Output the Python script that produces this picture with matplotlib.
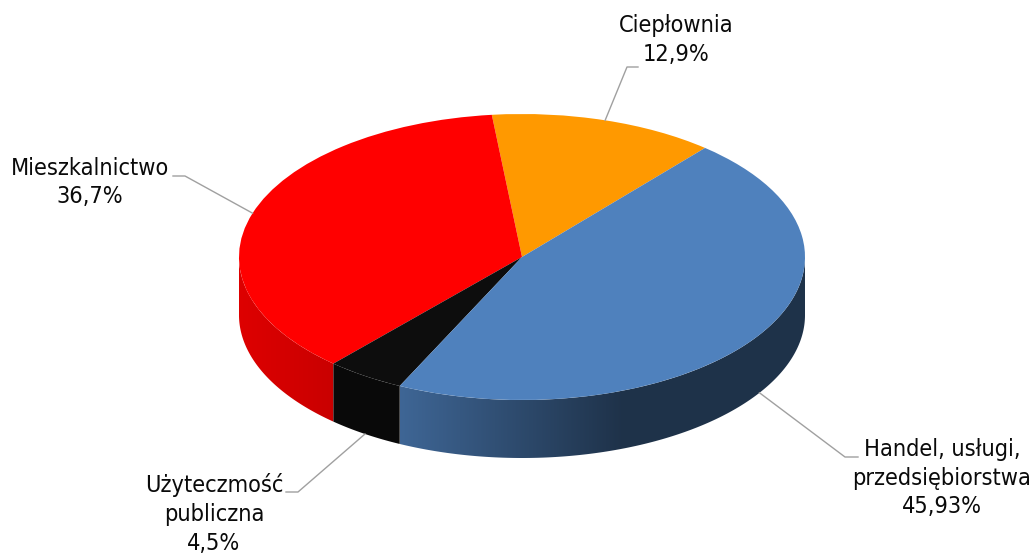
import numpy as np
import matplotlib
matplotlib.use("Agg")
import matplotlib.pyplot as plt
from matplotlib.colors import to_rgb
from matplotlib.patches import Polygon

# data (in drawing order, counter-clockwise from the start angle)
categories = ["Ciepłownia", "Mieszkalnictwo", "Użyteczmość\npubliczna", "Handel, usługi,\nprzedsiębiorstwa"]
percent_labels = ["12,9%", "36,7%", "4,5%", "45,93%"]
values = [12.9, 36.7, 4.5, 45.93]

# styles
colors = ["#ff9900", "#ff0000", "#0d0d0d", "#4f81bd"]
wall_shade = [(1, 1), (0.87, 0.79), (0.75, 0.75), (0.79, 0.39)]
START = 49.7
W, H = 1032, 553
CX, CY, RX, RY, DEPTH = 522, 257, 283, 143, 58
FS = 16.8
plt.rcParams["font.family"] = "DejaVu Sans"

fig = plt.figure(figsize=(W / 100, H / 100), dpi=100)
ax = fig.add_axes([0, 0, 1, 1])
depth = DEPTH / RY
xlim = (-CX / RX, (W - CX) / RX)
ylim = (-(H - CY) / RY, CY / RY)


def px(x, y):
    return (x - CX) / RX, (CY - y) / RY


vals = np.array(values)
spans = vals / vals.sum() * 360
starts = START + np.concatenate([[0], np.cumsum(spans)[:-1]])

# side wall, front half only, filled with a horizontal gradient
for a0, sp, col, (s0, s1) in zip(starts, spans, colors, wall_shade):
    lo, hi = max(a0, 180), min(a0 + sp, 360)
    if lo >= hi:
        continue
    th = np.radians(np.linspace(lo, hi, 240))
    xs, ys = np.cos(th), np.sin(th)
    outline = np.r_[np.c_[xs, ys], np.c_[xs, ys - depth][::-1]]
    x0, x1 = xs.min(), xs.max()
    xflat = 0.35 if col == "#4f81bd" else x1
    grid = np.linspace(x0, x1, 256)
    t = np.clip((grid - x0) / (xflat - x0), 0, 1)
    img = (s0 + (s1 - s0) * t)[None, :, None] * np.array(to_rgb(col))[None, None, :]
    im = ax.imshow(img, extent=(x0, x1, (ys - depth).min(), ys.max()), aspect="auto",
                   interpolation="bilinear", zorder=1)
    patch = Polygon(outline, closed=True, transform=ax.transData, facecolor="none", edgecolor="none")
    ax.add_patch(patch)
    im.set_clip_path(patch)

# top face
ax.pie(values, colors=colors, startangle=START, counterclock=True, radius=1,
       wedgeprops=dict(linewidth=0, zorder=2))
ax.set_xlim(*xlim)
ax.set_ylim(*ylim)
ax.set_aspect("auto")
ax.axis("off")

# leader knees and label positions (pixels)
knees = [[(627, 67), (638, 67)], [(185, 176), (173, 176)], [(298, 492), (286, 492)], [(845, 457), (858, 457)]]
label_pos = [(676, 40), (90, 182.5), (214, 514), (942, 478)]

for a0, sp, name, pct, kn, lp in zip(starts, spans, categories, percent_labels, knees, label_pos):
    mid = np.radians(a0 + sp / 2)
    x, y = np.cos(mid), np.sin(mid)
    if y < 0:
        y -= depth
    pts = [(x, y)] + [px(*k) for k in kn]
    ax.plot(*zip(*pts), color="#a0a0a0", lw=1.0, zorder=3)
    tx, ty = px(*lp)
    ax.text(tx, ty, name + "\n" + pct, ha="center", va="center", fontsize=FS,
            stretch="condensed", linespacing=1.33, color="#0a0a0a", zorder=4)

fig.savefig("out.png", dpi=100)
